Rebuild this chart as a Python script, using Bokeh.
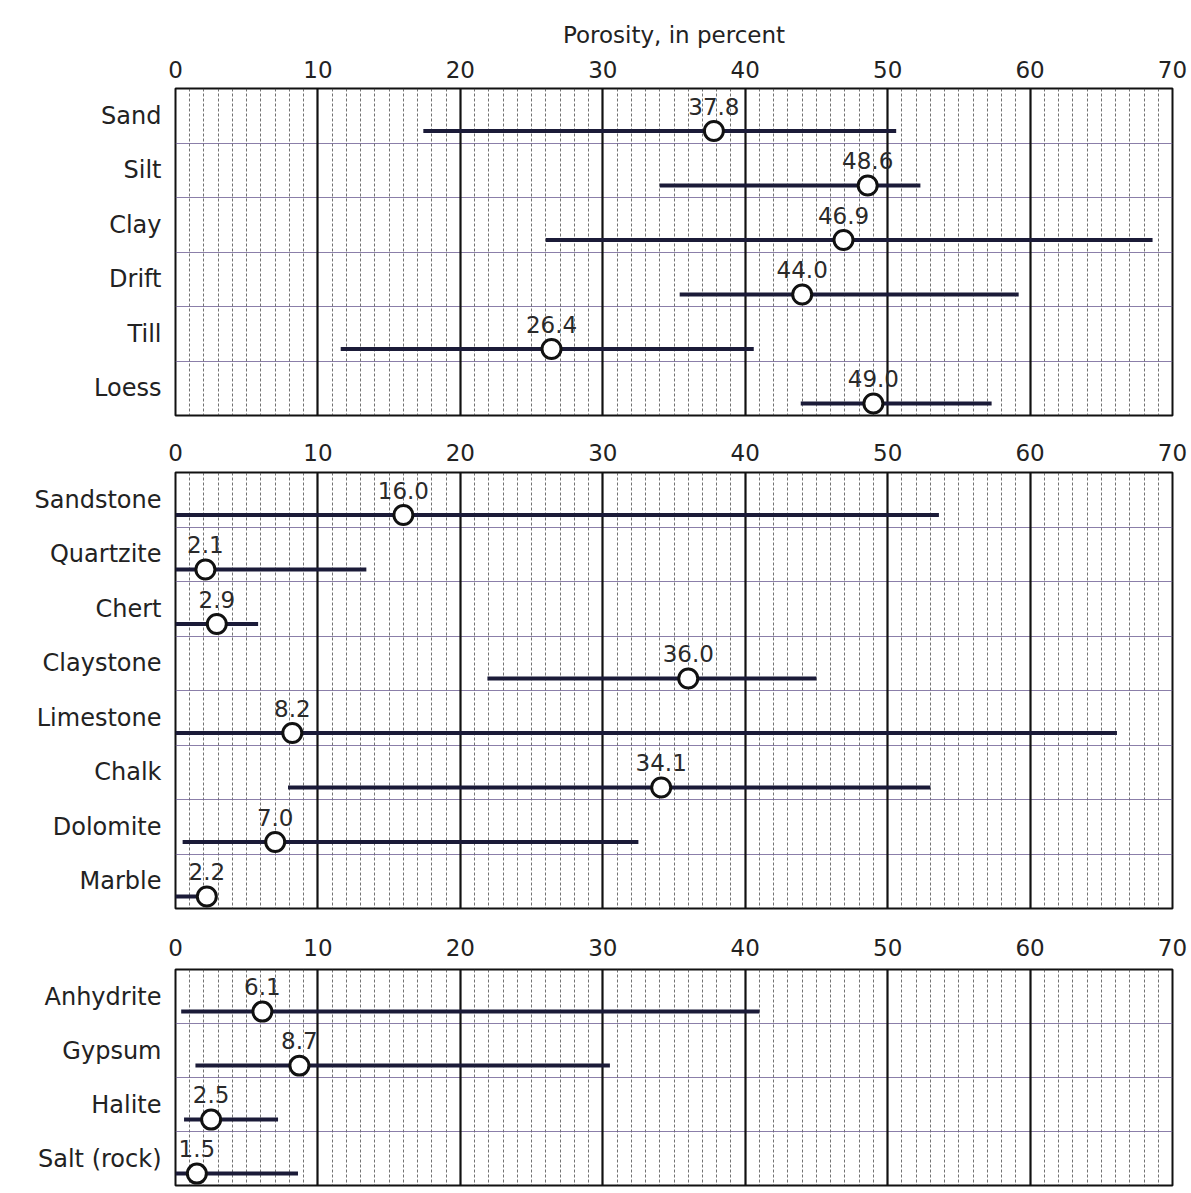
from bokeh.plotting import figure
from bokeh.models import (Range1d, FixedTicker, LinearAxis, Grid, ColumnDataSource)
from bokeh.layouts import column
from bokeh.embed import file_html
from bokeh.resources import INLINE
from bokeh.core.properties import value

# ---------------- data ----------------
unconsol_names = ["Sand", "Silt", "Clay", "Drift", "Till", "Loess"]
unconsol_mean = [37.8, 48.6, 46.9, 44.0, 26.4, 49.0]
unconsol_min = [17.4, 34.0, 26.0, 35.4, 11.6, 43.9]
unconsol_max = [50.6, 52.3, 68.6, 59.2, 40.6, 57.3]

rock_names = ["Sandstone", "Quartzite", "Chert", "Claystone", "Limestone",
              "Chalk", "Dolomite", "Marble"]
rock_mean = [16.0, 2.1, 2.9, 36.0, 8.2, 34.1, 7.0, 2.2]
rock_min = [0.0, 0.0, 0.0, 21.9, 0.0, 7.9, 0.5, 0.0]
rock_max = [53.6, 13.4, 5.8, 45.0, 66.1, 53.0, 32.5, 2.5]

evap_names = ["Anhydrite", "Gypsum", "Halite", "Salt (rock)"]
evap_mean = [6.1, 8.7, 2.5, 1.5]
evap_min = [0.4, 1.4, 0.6, 0.0]
evap_max = [41.0, 30.5, 7.2, 8.6]

x_ticks = [0, 10, 20, 30, 40, 50, 60, 70]
x_title = "Porosity, in percent"

FONT = "DejaVu Sans"
LINE_POS = 0.78  # position of the range line inside a row


def make_panel(names, means, mins, maxs, height, top, bottom, title=None,
               label_standoff=6):
    n = len(names)
    p = figure(width=1191, height=height, output_backend="svg",
               toolbar_location=None, x_range=Range1d(0, 70),
               y_range=Range1d(n, 0), x_axis_location=None,
               y_axis_location=None, min_border_left=175,
               min_border_right=19, min_border_top=top,
               min_border_bottom=bottom)
    p.background_fill_color = "white"
    p.border_fill_color = "white"
    p.outline_line_color = "#111111"
    p.outline_line_width = 2
    p.xgrid.visible = False
    p.ygrid.visible = False

    # top axis
    xa = LinearAxis(ticker=FixedTicker(ticks=x_ticks))
    xa.axis_line_color = None
    xa.major_tick_line_color = None
    xa.minor_tick_line_color = None
    xa.major_label_text_font = FONT
    xa.major_label_text_font_size = "23px"
    xa.major_label_text_color = "#222222"
    xa.major_label_standoff = label_standoff
    if title:
        xa.axis_label = title
        xa.axis_label_text_font = FONT
        xa.axis_label_text_font_size = "23px"
        xa.axis_label_text_font_style = "normal"
        xa.axis_label_text_color = "#222222"
        xa.axis_label_standoff = 10
    p.add_layout(xa, "above")

    # left axis with category names
    centers = [i + 0.5 for i in range(n)]
    ya = LinearAxis(ticker=FixedTicker(ticks=centers))
    ya.major_label_overrides = {c: nm for c, nm in zip(centers, names)}
    ya.axis_line_color = None
    ya.major_tick_line_color = None
    ya.minor_tick_line_color = None
    ya.major_label_text_font = FONT
    ya.major_label_text_font_size = "24px"
    ya.major_label_text_color = "#222222"
    ya.major_label_standoff = 8
    p.add_layout(ya, "left")

    # minor vertical grid (every 1 %)
    minor = [v for v in range(0, 71) if v % 10 != 0]
    g_minor = Grid(dimension=0, ticker=FixedTicker(ticks=minor))
    g_minor.grid_line_color = "#444444"
    g_minor.grid_line_width = 1
    g_minor.grid_line_alpha = 0.75
    g_minor.grid_line_dash = "3 2"
    p.add_layout(g_minor)

    # horizontal row separators
    g_rows = Grid(dimension=1, ticker=FixedTicker(ticks=list(range(1, n))))
    g_rows.grid_line_color = "#6e5f93"
    g_rows.grid_line_width = 1.2
    g_rows.grid_line_alpha = 0.8
    p.add_layout(g_rows)

    # major vertical grid (every 10 %)
    g_major = Grid(dimension=0, ticker=FixedTicker(ticks=x_ticks))
    g_major.grid_line_color = "#111111"
    g_major.grid_line_width = 2.2
    p.add_layout(g_major)

    ys = [i + LINE_POS for i in range(n)]
    src = ColumnDataSource(dict(name=names, mean=means, lo=mins, hi=maxs, y=ys,
                                lab=["%.1f" % m for m in means]))
    p.segment(x0="lo", x1="hi", y0="y", y1="y", source=src,
              line_color="#1b1b38", line_width=4)
    p.scatter(x="mean", y="y", source=src, size=19, fill_color="white",
              line_color="#111111", line_width=3)
    p.text(x="mean", y="y", text="lab", source=src, text_align="center",
           text_baseline="middle", y_offset=-25, text_font=value(FONT),
           text_font_size="23px", text_color="#2a2a2a")
    return p


p1 = make_panel(unconsol_names, unconsol_mean, unconsol_min, unconsol_max,
                height=430, top=88, bottom=15, title=x_title, label_standoff=5)
p2 = make_panel(rock_names, rock_mean, rock_min, rock_max,
                height=495, top=42, bottom=17, label_standoff=6)
p3 = make_panel(evap_names, evap_mean, evap_min, evap_max,
                height=268, top=44, bottom=8, label_standoff=8)

layout = column(p1, p2, p3, spacing=0)

open("out.html", "w").write(file_html(layout, INLINE))
